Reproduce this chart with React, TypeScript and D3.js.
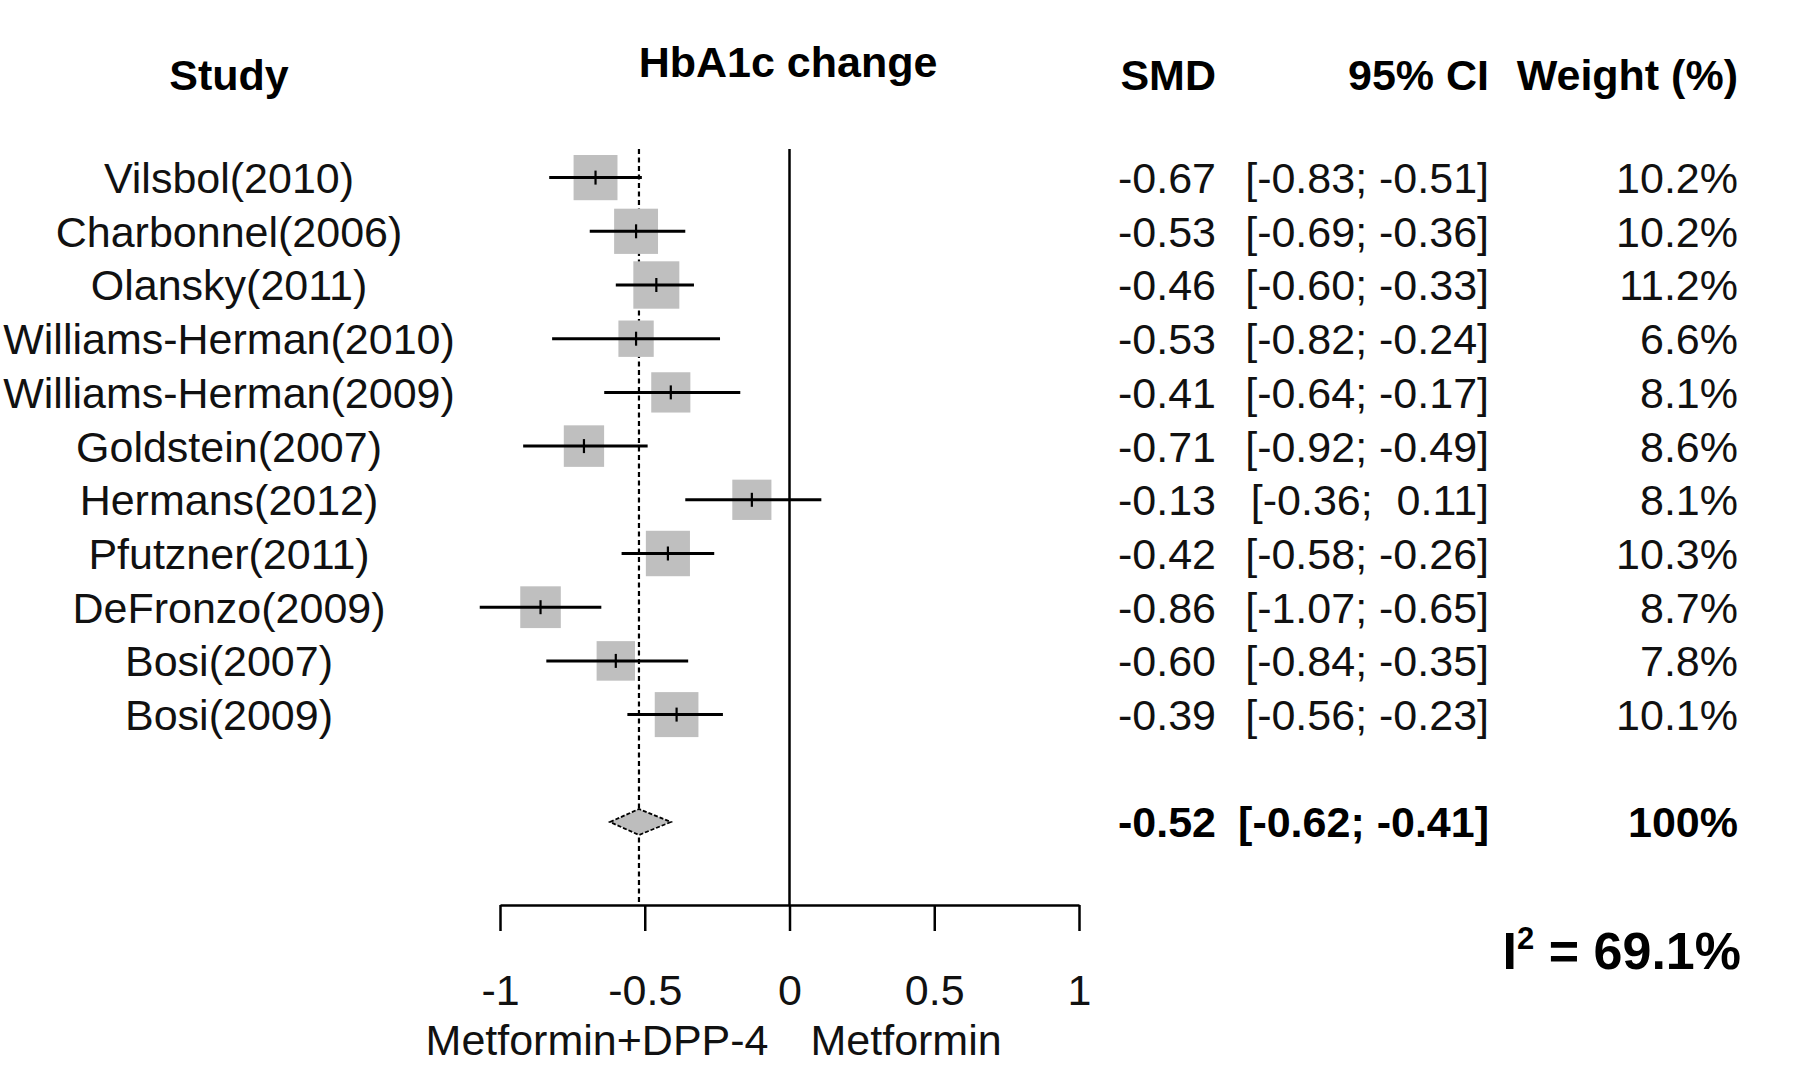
import { useEffect, useRef } from "react";
import * as d3 from "d3";

// study rows, top to bottom
const studies = [
  "Vilsbol(2010)",
  "Charbonnel(2006)",
  "Olansky(2011)",
  "Williams-Herman(2010)",
  "Williams-Herman(2009)",
  "Goldstein(2007)",
  "Hermans(2012)",
  "Pfutzner(2011)",
  "DeFronzo(2009)",
  "Bosi(2007)",
  "Bosi(2009)",
];
const smd = [-0.67, -0.53, -0.46, -0.53, -0.41, -0.71, -0.13, -0.42, -0.86, -0.6, -0.39];
const ciLower = [-0.83, -0.69, -0.6, -0.82, -0.64, -0.92, -0.36, -0.58, -1.07, -0.84, -0.56];
const ciUpper = [-0.51, -0.36, -0.33, -0.24, -0.17, -0.49, 0.11, -0.26, -0.65, -0.35, -0.23];
const weights = [10.2, 10.2, 11.2, 6.6, 8.1, 8.6, 8.1, 10.3, 8.7, 7.8, 10.1];

// pooled estimate
const pooled = { smd: -0.52, lower: -0.62, upper: -0.41, weight: 100 };
const i2 = "69.1%";

const xTicks = [-1, -0.5, 0, 0.5, 1];

const FONT = "'Liberation Sans', Arial, sans-serif";
const FS = 43;

function fmt(v: number) {
  return v.toFixed(2);
}
function ciText(lo: number, hi: number) {
  return `[${fmt(lo)}; ${hi >= 0 ? " " : ""}${fmt(hi)}]`;
}

export default function App() {
  const axisRef = useRef<SVGGElement>(null);

  const x = d3.scaleLinear().domain([-1, 1]).range([500, 1079]);
  // row index -> y; summary sits at row 12 (row 11 left blank)
  const y = d3.scaleLinear().domain([0, 12]).range([177.6, 822]);
  const size = d3.scaleSqrt().domain([0, 11.2]).range([0, 46]);

  const axisY = 905;
  const topY = 149;

  useEffect(() => {
    const g = d3.select(axisRef.current);
    g.selectAll("*").remove();
    g.call(
      d3
        .axisBottom(x)
        .tickValues(xTicks)
        .tickSize(26)
        .tickSizeOuter(0)
        .tickPadding(43)
        .tickFormat((d) => String(d))
    );
    g.select(".domain").attr("stroke", "#000").attr("stroke-width", 2.5);
    g.selectAll(".tick line").attr("stroke", "#000").attr("stroke-width", 2.5);
    g.selectAll(".tick text")
      .attr("fill", "#111")
      .style("font-family", FONT)
      .style("font-size", `${FS}px`);
  }, []);

  const colSmd = 1216;
  const colCi = 1489;
  const colW = 1738;

  return (
    <div style={{ position: "absolute", left: 0, top: 0 }}>
      <svg width={1802} height={1067} style={{ display: "block", background: "#fff" }}>
        <g fontFamily={FONT} fontSize={FS} fill="#111">
          {/* headers */}
          <text x={229} y={90} textAnchor="middle" fontWeight="bold" fill="#000">
            Study
          </text>
          <text x={788} y={77} textAnchor="middle" fontWeight="bold" fill="#000">
            HbA1c change
          </text>
          <text x={colSmd} y={90} textAnchor="end" fontWeight="bold" fill="#000">
            SMD
          </text>
          <text x={colCi} y={90} textAnchor="end" fontWeight="bold" fill="#000">
            95% CI
          </text>
          <text x={colW} y={90} textAnchor="end" fontWeight="bold" fill="#000">
            Weight (%)
          </text>
        </g>

        {/* reference lines */}
        <line x1={x(0)} x2={x(0)} y1={topY} y2={axisY} stroke="#000" strokeWidth={2.5} />
        <line
          x1={x(pooled.smd)}
          x2={x(pooled.smd)}
          y1={topY}
          y2={axisY}
          stroke="#000"
          strokeWidth={2.2}
          strokeDasharray="5,3.5"
        />

        {/* studies */}
        {studies.map((s, i) => {
          const cy = y(i);
          const w = size(weights[i]);
          return (
            <g key={s}>
              <rect
                x={x(smd[i]) - w / 2}
                y={cy - (w * 1.03) / 2}
                width={w}
                height={w * 1.03}
                fill="#bfbfbf"
              />
              <line x1={x(ciLower[i])} x2={x(ciUpper[i])} y1={cy} y2={cy} stroke="#000" strokeWidth={3} />
              <line x1={x(smd[i])} x2={x(smd[i])} y1={cy - 7} y2={cy + 7} stroke="#000" strokeWidth={2.2} />
              <g fontFamily={FONT} fontSize={FS} fill="#111">
                <text x={229} y={cy} dy="0.36em" textAnchor="middle">
                  {s}
                </text>
                <text x={colSmd} y={cy} dy="0.36em" textAnchor="end">
                  {fmt(smd[i])}
                </text>
                <text x={colCi} y={cy} dy="0.36em" textAnchor="end" style={{ whiteSpace: "pre" }}>
                  {ciText(ciLower[i], ciUpper[i])}
                </text>
                <text x={colW} y={cy} dy="0.36em" textAnchor="end">
                  {`${weights[i].toFixed(1)}%`}
                </text>
              </g>
            </g>
          );
        })}

        {/* pooled diamond */}
        <polygon
          points={[
            [x(pooled.lower), y(12)],
            [x(pooled.smd), y(12) - 13],
            [x(pooled.upper), y(12)],
            [x(pooled.smd), y(12) + 13],
          ]
            .map((p) => p.join(","))
            .join(" ")}
          fill="#bdbdbd"
          stroke="#000"
          strokeWidth={1.8}
          strokeDasharray="4,2"
        />
        <g fontFamily={FONT} fontSize={FS} fontWeight="bold" fill="#000">
          <text x={colSmd} y={y(12)} dy="0.36em" textAnchor="end">
            {fmt(pooled.smd)}
          </text>
          <text x={colCi} y={y(12)} dy="0.36em" textAnchor="end">
            {ciText(pooled.lower, pooled.upper)}
          </text>
          <text x={colW} y={y(12)} dy="0.36em" textAnchor="end">
            {`${pooled.weight}%`}
          </text>
        </g>

        {/* x axis */}
        <g ref={axisRef} transform={`translate(0,${axisY})`} />

        <g fontFamily={FONT} fontSize={FS} fill="#111">
          <text x={x(0) - 21} y={1055} textAnchor="end">
            Metformin+DPP-4
          </text>
          <text x={x(0) + 21} y={1055} textAnchor="start">
            Metformin
          </text>
        </g>

        {/* heterogeneity */}
        <text x={1741} y={969} textAnchor="end" fontFamily={FONT} fontSize={52} fontWeight="bold" fill="#000">
          I
          <tspan fontSize={31} dy={-20}>
            2
          </tspan>
          <tspan dy={20}>{` = ${i2}`}</tspan>
        </text>
      </svg>
    </div>
  );
}
